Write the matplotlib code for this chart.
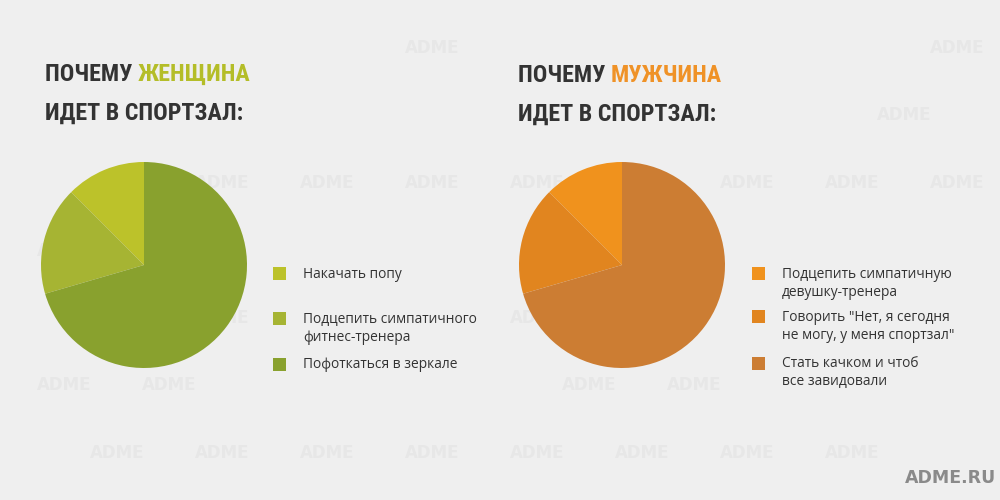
import matplotlib
matplotlib.use("Agg")
from matplotlib import pyplot as plt
from matplotlib import font_manager
from matplotlib.patches import Rectangle

# data (shares in %)
women_labels = ["Накачать попу",
                "Подцепить симпатичного\nфитнес-тренера",
                "Пофоткаться в зеркале"]
women_values = [12.5, 17.0, 70.5]
women_colors = ["#bcc22a", "#a6b433", "#89a12e"]

men_labels = ["Подцепить симпатичную\nдевушку-тренера",
              "Говорить \"Нет, я сегодня\nне могу, у меня спортзал\"",
              "Стать качком и чтоб\nвсе завидовали"]
men_values = [12.5, 17.0, 70.5]
men_colors = ["#f0921d", "#e1851f", "#cc7d33"]

BG = "#efefef"
DARK = "#333333"
H = 500

_names = {f.name for f in font_manager.fontManager.ttflist}
TITLE_FONT = dict(family="DejaVu Sans", fontstretch="condensed")
for _n in ["Roboto Condensed", "Open Sans Condensed", "Liberation Sans Narrow"]:
    if _n in _names:
        TITLE_FONT = dict(family=_n)
        break


def y(px):
    # pixel row from top -> data coordinate
    return H - px


def title_size(ax, renderer):
    t = ax.text(0, 0, "ИДЕТ В СПОРТЗАЛ:", weight="bold", fontsize=20, **TITLE_FONT)
    w = t.get_window_extent(renderer).width
    t.remove()
    return min(20, max(17, 20 * 198 / w))


def title(ax, renderer, size, x, y0, word, color):
    kw = dict(weight="bold", fontsize=size, va="baseline", ha="left", **TITLE_FONT)
    t = ax.text(x, y(y0), "ПОЧЕМУ ", color=DARK, **kw)
    w = t.get_window_extent(renderer).width
    ax.text(x + w, y(y0), word, color=color, **kw)
    ax.text(x, y(y0 + 39), "ИДЕТ В СПОРТЗАЛ:", color=DARK, **kw)


def legend(ax, x_sq, x_txt, rows, colors, labels):
    for (sq_y, txt_y), c, lab in zip(rows, colors, labels):
        ax.add_patch(Rectangle((x_sq, y(sq_y + 6.5)), 13, 13, color=c, lw=0, zorder=3))
        ax.text(x_txt, y(txt_y), lab, color=DARK, family="Open Sans", fontsize=9.9,
                va="top", ha="left", linespacing=1.3)


def main():
    fig = plt.figure(figsize=(10, 5), dpi=100, facecolor=BG)
    ax = fig.add_axes([0, 0, 1, 1])
    ax.set_facecolor(BG)
    ax.set_xlim(0, 1000)
    ax.set_ylim(0, H)
    renderer = fig.canvas.get_renderer()

    # faint watermark, left out where titles and legend texts sit
    busy = [(20, 360, 40, 135), (490, 830, 40, 135),
            (285, 500, 255, 385), (765, 980, 255, 400), (880, 1000, 460, 500)]
    for r in range(7):
        ry = 48 + 67.5 * r
        off = 12 if r % 2 == 0 else 64
        for c in range(0, 10):
            wx = off + 105 * c
            if wx < 30 or wx > 970:
                continue
            if any(x0 - 25 < wx < x1 + 25 and y0 - 8 < ry < y1 + 8 for x0, x1, y0, y1 in busy):
                continue
            ax.text(wx, y(ry), "ADME", color="#e7e7e7", fontsize=12,
                    weight="bold", ha="center", va="center", zorder=0)

    wp = dict(linewidth=0)
    ax.pie(women_values, colors=women_colors, startangle=90, counterclock=True,
           center=(144, y(265)), radius=103, frame=True, wedgeprops=wp)
    ax.pie(men_values, colors=men_colors, startangle=90, counterclock=True,
           center=(622, y(265)), radius=103, frame=True, wedgeprops=wp)

    ax.set_xlim(0, 1000)
    ax.set_ylim(0, H)
    ax.set_aspect("auto")

    size = title_size(ax, renderer)
    title(ax, renderer, size, 45, 81, "ЖЕНЩИНА", "#b4bd28")
    title(ax, renderer, size, 518, 82, "МУЖЧИНА", "#ef9227")

    legend(ax, 273, 303, [(273, 267), (318, 312), (364, 357)], women_colors, women_labels)
    legend(ax, 752, 782, [(273, 267), (316, 310), (363, 356)], men_colors, men_labels)

    ax.text(996, y(478), "ADME.RU", color="#8a8a8a", fontsize=12.5, weight="bold",
            ha="right", va="center")

    ax.axis("off")
    fig.savefig("out.png", dpi=100, facecolor=BG)


if __name__ == "__main__":
    main()
